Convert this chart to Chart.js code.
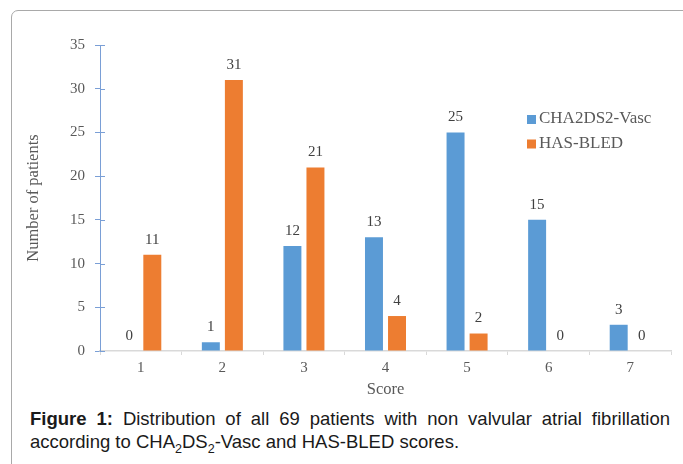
<!DOCTYPE html>
<html>
<head>
<meta charset="utf-8">
<title>Figure 1</title>
<script src="https://cdn.jsdelivr.net/npm/chart.js@4.4.0/dist/chart.umd.min.js"></script>
<style>
    html, body { margin: 0; padding: 0; background: #fff; }
    body { width: 683px; height: 464px; position: relative; overflow: hidden; }
    .frame {
        position: absolute; left: 11px; top: 10px; width: 720px; height: 500px;
        border: 1.5px solid #a9a9a9; border-radius: 7px;
    }
    #chartBox { position: absolute; left: 0; top: 0; width: 683px; height: 400px; }
    .caption {
        position: absolute; left: 30px; width: 640px; top: 407px;
        font-family: "Liberation Sans", Arial, sans-serif; font-size: 18.5px;
        line-height: 23px; color: #1a1a1a;
    }
    .l1 { text-align: justify; text-align-last: justify; white-space: nowrap; }
    sub { font-size: 0.68em; vertical-align: -0.4em; line-height: 0; }
</style>
</head>
<body>
<div class="frame"></div>
<div id="chartBox"><canvas id="dataChart" width="683" height="400"></canvas></div>
<div class="caption">
    <div class="l1"><b>Figure 1:</b> Distribution of all 69 patients with non valvular atrial fibrillation</div>
    <div>according to CHA<sub>2</sub>DS<sub>2</sub>-Vasc and HAS-BLED scores.</div>
</div>
<script>
// 資料
const scores = ["1", "2", "3", "4", "5", "6", "7"];
const chaVasc = [0, 1, 12, 13, 25, 15, 3];
const hasBled = [11, 31, 21, 4, 2, 0, 0];
const seriesNames = ["CHA2DS2-Vasc", "HAS-BLED"];

const serif = "'Liberation Serif', 'Times New Roman', serif";
const axisBlue = "#7a9fd6";
const axisGray = "#d9d9d9";

// 柱子上方的數值
const valueLabels = {
    id: "valueLabels",
    afterDatasetsDraw(chart) {
        const ctx = chart.ctx;
        ctx.save();
        ctx.font = "15px " + serif;
        ctx.fillStyle = "#404040";
        ctx.textAlign = "center";
        ctx.textBaseline = "middle";
        chart.data.datasets.forEach((ds, i) => {
            chart.getDatasetMeta(i).data.forEach((bar, j) => {
                ctx.fillText(String(ds.data[j]), bar.x, bar.y - 15);
            });
        });
        ctx.restore();
    }
};

// 圖例（畫在繪圖區內右上）
const insideLegend = {
    id: "insideLegend",
    afterDraw(chart) {
        const ctx = chart.ctx;
        ctx.save();
        ctx.font = "17px " + serif;
        ctx.textBaseline = "middle";
        chart.data.datasets.forEach((ds, i) => {
            const y = 119 + i * 24.5;
            ctx.fillStyle = ds.backgroundColor;
            ctx.fillRect(527, y - 4, 9, 9);
            ctx.fillStyle = "#595959";
            ctx.fillText(ds.label, 539, y);
        });
        ctx.restore();
    }
};

// Y 軸刻度線穿過軸線
const yCrossTicks = {
    id: "yCrossTicks",
    afterDraw(chart) {
        const y = chart.scales.y;
        const ctx = chart.ctx;
        ctx.save();
        ctx.strokeStyle = axisBlue;
        ctx.lineWidth = 1;
        y.ticks.forEach(t => {
            const py = Math.round(y.getPixelForValue(t.value)) + 0.5;
            ctx.beginPath();
            ctx.moveTo(y.right, py);
            ctx.lineTo(y.right + 5, py);
            ctx.stroke();
        });
        ctx.restore();
    }
};

const ctx = document.getElementById("dataChart").getContext("2d");
const chart = new Chart(ctx, {
    type: "bar",
    data: {
        labels: scores,
        datasets: [
            {
                label: seriesNames[0],
                data: chaVasc,
                backgroundColor: "#5b9bd5",
                categoryPercentage: 0.565,
                barPercentage: 0.78
            },
            {
                label: seriesNames[1],
                data: hasBled,
                backgroundColor: "#ed7d31",
                categoryPercentage: 0.565,
                barPercentage: 0.78
            }
        ]
    },
    options: {
        responsive: false,
        animation: false,
        devicePixelRatio: 1,
        layout: { padding: { top: 45, right: 12, left: 0, bottom: 0 } },
        plugins: {
            legend: { display: false },
            tooltip: { enabled: false }
        },
        scales: {
            x: {
                afterFit: s => { s.height = 49; },
                border: { color: axisGray, width: 1.5 },
                grid: { drawOnChartArea: false, drawTicks: true, tickLength: 4, color: axisGray },
                ticks: { color: "#595959", font: { family: serif, size: 15 }, padding: 4 },
                title: {
                    display: true, text: "Score", color: "#595959",
                    font: { family: serif, size: 16.5 }, padding: { top: 0, bottom: 0 }
                }
            },
            y: {
                min: 0,
                max: 35,
                afterFit: s => { s.width = 100; },
                border: { color: axisBlue, width: 1 },
                grid: { drawOnChartArea: false, drawTicks: true, tickLength: 5, color: axisBlue },
                ticks: { stepSize: 5, color: "#595959", font: { family: serif, size: 15 }, padding: 10 },
                title: {
                    display: true, text: "Number of patients", color: "#595959",
                    font: { family: serif, size: 16.5 }, padding: { top: 24, bottom: 0 }
                }
            }
        }
    },
    plugins: [valueLabels, insideLegend, yCrossTicks]
});
</script>
</body>
</html>
